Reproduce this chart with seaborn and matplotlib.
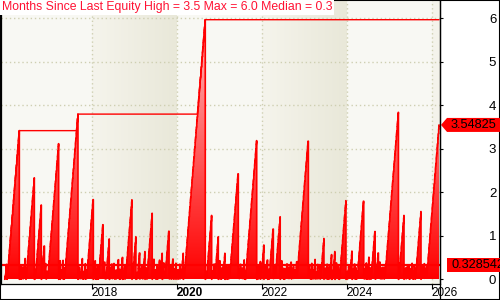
import numpy as np
import pandas as pd
import matplotlib
matplotlib.use("Agg")
import matplotlib.pyplot as plt
import matplotlib.dates as mdates
import seaborn as sns
from matplotlib.colors import LinearSegmentedColormap
from matplotlib.patches import Polygon, PathPatch, Rectangle
from matplotlib.path import Path
from matplotlib.lines import Line2D
from matplotlib.transforms import IdentityTransform

# ---------------- data ----------------
start_date = "2015-12-16"
last_date = "2026-03-05"
peak_dates = [
    "2016-04-19", "2016-06-15", "2016-08-26", "2016-10-25", "2016-11-20",
    "2017-03-23", "2017-04-06", "2017-09-05", "2018-01-15", "2018-04-08",
    "2018-06-01", "2018-09-24", "2018-12-13", "2019-01-16", "2019-02-17",
    "2019-04-04", "2019-06-05", "2019-08-30", "2019-10-27", "2020-02-27",
    "2020-09-03", "2020-10-28", "2020-12-24", "2021-02-19", "2021-06-13",
    "2021-11-19", "2022-01-20", "2022-02-21", "2022-04-10", "2022-06-09",
    "2023-02-05", "2023-06-20", "2023-08-25", "2023-09-22", "2023-12-26",
    "2024-02-16", "2024-05-26", "2024-07-11", "2024-08-31", "2024-09-29",
    "2025-03-21", "2025-05-08", "2025-10-01",
]
peak_months = [
    3.45, 0.74, 2.62, 1.74, 0.83,
    3.15, 0.46, 3.83, 1.93, 1.32,
    0.96, 0.60, 1.86, 1.01, 0.67,
    0.67, 1.55, 0.63, 1.17, 0.63,
    6.00, 1.50, 1.01, 0.63, 2.49,
    3.22, 0.82, 0.54, 1.22, 1.47,
    3.24, 0.97, 0.60, 0.67, 1.84,
    0.68, 1.86, 0.54, 1.13, 0.67,
    3.87, 1.50, 1.59,
]
current_months = 3.54825
max_months = 6.0
median_months = 0.328542
# short stretches between new equity highs (months) in the quiet periods
small_gaps = [
    0.12, 0.35, 0.05, 0.22, 0.41, 0.08, 0.18, 0.30, 0.05, 0.47, 0.15, 0.26, 0.07, 0.38, 0.20, 0.10, 0.33, 0.05, 0.24, 0.44,
    0.09, 0.29, 0.16, 0.05, 0.36, 0.21, 0.12, 0.50, 0.06, 0.27, 0.14, 0.39, 0.05, 0.23, 0.31, 0.10, 0.45, 0.08, 0.19, 0.34,
    0.05, 0.25, 0.40, 0.11, 0.17, 0.32, 0.06, 0.28, 0.43, 0.13, 0.05, 0.37, 0.22, 0.09, 0.30, 0.15, 0.48, 0.07, 0.26, 0.18,
    0.34, 0.05, 0.21, 0.42, 0.10, 0.27, 0.14, 0.36, 0.06, 0.24, 0.39, 0.12, 0.05, 0.31, 0.19, 0.46, 0.08, 0.28, 0.16, 0.35,
    0.07, 0.23, 0.44, 0.11, 0.29, 0.05, 0.38, 0.17, 0.25, 0.09, 0.33, 0.20, 0.49, 0.06, 0.27, 0.13, 0.40, 0.05, 0.22, 0.32,
    0.15, 0.37, 0.08, 0.26, 0.05, 0.43, 0.18, 0.30, 0.10, 0.24, 0.35, 0.07, 0.21, 0.45, 0.12, 0.28, 0.05, 0.39, 0.16, 0.33,
    0.06, 0.27, 0.41, 0.14, 0.23, 0.05, 0.36, 0.19, 0.31, 0.09, 0.47, 0.11, 0.25, 0.34, 0.07, 0.20, 0.42, 0.05, 0.29, 0.17,
    0.38, 0.10, 0.26, 0.05, 0.32, 0.22, 0.44, 0.08, 0.18, 0.35, 0.13, 0.28, 0.06, 0.40, 0.21, 0.05, 0.30, 0.15, 0.46, 0.09,
    0.24, 0.37, 0.12, 0.05, 0.27, 0.43, 0.16, 0.33, 0.07, 0.22, 0.39, 0.10, 0.29, 0.05, 0.48, 0.14, 0.25, 0.36, 0.08, 0.19,
    0.31, 0.05, 0.42, 0.17, 0.26, 0.11, 0.35, 0.06, 0.23, 0.45, 0.13, 0.28, 0.05, 0.38, 0.20, 0.32, 0.09, 0.41, 0.15, 0.27,
    0.05, 0.34, 0.21, 0.47, 0.10, 0.24, 0.37, 0.07, 0.30, 0.18, 0.05, 0.43, 0.12, 0.26, 0.39, 0.08, 0.22, 0.33, 0.16, 0.44,
    0.06, 0.28, 0.40, 0.11, 0.25, 0.05, 0.36, 0.19, 0.31, 0.14, 0.46, 0.09, 0.23, 0.35, 0.05, 0.29, 0.17, 0.42, 0.12, 0.27,
    0.38, 0.07, 0.21, 0.05, 0.33, 0.24, 0.45, 0.10, 0.30, 0.16, 0.37, 0.06, 0.26, 0.41, 0.13, 0.05, 0.32, 0.20, 0.48, 0.11,
    0.18, 0.34, 0.05, 0.27, 0.43, 0.09, 0.22, 0.36, 0.14, 0.29, 0.05, 0.40, 0.17, 0.25, 0.38, 0.08, 0.31, 0.12, 0.44, 0.23,
]
year_ticks = [2018, 2020, 2022, 2024, 2026]
bold_year = 2020
shaded_years = [(2018, 2020), (2022, 2024), (2026, 2028)]
y_ticks = [0, 1, 2, 3, 4, 5, 6]
title = "Months Since Last Equity High = 3.5 Max = 6.0 Median = 0.3"

# ---------------- build series ----------------
DPM = 30.4375
start = mdates.date2num(pd.Timestamp(start_date))
last = mdates.date2num(pd.Timestamp(last_date))
episodes = [(mdates.date2num(pd.Timestamp(d)) - m * DPM, mdates.date2num(pd.Timestamp(d)))
            for d, m in zip(peak_dates, peak_months)]
episodes.append((last - current_months * DPM, None))

highs = []
cursor = start
gi = 0
for s, e in episodes:
    t = cursor
    highs.append(t)
    while t < s:
        g = small_gaps[gi % len(small_gaps)] * DPM
        gi += 1
        if t + g >= s:
            break
        t += g
        highs.append(t)
    highs.append(s)
    if e is not None:
        cursor = e
highs = np.array(sorted(set(highs)))

days = mdates.date2num(pd.bdate_range(start_date, last_date))
idx = np.searchsorted(highs, days, side="right") - 1
vals = np.clip((days - highs[idx]) / DPM, 0, None)
run_max = np.maximum.accumulate(vals)
df = pd.DataFrame({"date": days, "months": vals, "runmax": run_max})

# ---------------- figure ----------------
sns.set_theme(style="white")
plt.rcParams["font.family"] = ["Liberation Sans", "DejaVu Sans"]

W, H = 500, 300
fig = plt.figure(figsize=(5, 3), dpi=100)
fig.patch.set_facecolor("white")
ax = fig.add_axes([1 / W, 16 / H, 439 / W, 284 / H])

px_per_day = 340 / (mdates.date2num(pd.Timestamp("2026-01-01")) - mdates.date2num(pd.Timestamp("2018-01-01")))
x_left = mdates.date2num(pd.Timestamp("2018-01-01")) - 90.7 / px_per_day
x_right = mdates.date2num(pd.Timestamp("2026-01-01")) + 8.3 / px_per_day
ymin, ymax = -0.108, 6.42

ax.set_facecolor("#f8f8f3")
band_cmap = LinearSegmentedColormap.from_list("band", ["#f5f4ec", "#e9e8d9"])
for y0, y1 in shaded_years:
    d0 = mdates.date2num(pd.Timestamp(f"{y0}-01-01"))
    d1 = mdates.date2num(pd.Timestamp(f"{y1}-01-01"))
    ax.imshow(np.linspace(0, 1, 64).reshape(1, -1), cmap=band_cmap, aspect="auto",
              extent=[d0, d1, ymin, ymax], origin="lower", zorder=0.2, interpolation="bilinear")

# grid
for yv in y_ticks[1:]:
    ax.axhline(yv, color="#cfcfb2", lw=1.0, ls=(0, (1, 2)), zorder=0.5)
for yr in year_ticks:
    ax.axvline(mdates.date2num(pd.Timestamp(f"{yr}-01-01")), color="#cfcfb2", lw=1.0,
               ls=(0, (1, 2)), zorder=0.5)

# gradient fill under the series
poly = ax.fill_between(df["date"], 0, df["months"], step="post", facecolor="none",
                       edgecolor="none", zorder=1)
paths = poly.get_paths()
clip = PathPatch(Path.make_compound_path(*paths), transform=ax.transData,
                 facecolor="none", edgecolor="none")
ax.add_patch(clip)
fill_cmap = LinearSegmentedColormap.from_list("fill", ["#ff0000", "#ffcccc"])
im = ax.imshow(np.linspace(0, 1, 256).reshape(-1, 1), cmap=fill_cmap, aspect="auto",
               extent=[x_left, x_right, 0, ymax], origin="lower", zorder=1.5)
im.set_clip_path(clip)

sns.lineplot(data=df, x="date", y="months", ax=ax, color="#ff0000", lw=1.2,
             drawstyle="steps-post", estimator=None, sort=False, zorder=2)
sns.lineplot(data=df, x="date", y="runmax", ax=ax, color="#ff0000", lw=1.0,
             drawstyle="steps-post", estimator=None, sort=False, zorder=2.2)
ax.axhline(median_months, color="#ff0000", lw=1.6, zorder=2.5)

ax.set_xlim(x_left, x_right)
ax.set_ylim(ymin, ymax)
ax.set_xlabel("")
ax.set_ylabel("")

# axes / ticks
ax.set_xticks([mdates.date2num(pd.Timestamp(f"{y}-01-01")) for y in year_ticks])
ax.set_xticklabels([str(y) for y in year_ticks])
for lbl, y in zip(ax.get_xticklabels(), year_ticks):
    lbl.set_ha("left")
    if y == bold_year:
        lbl.set_fontweight("bold")
ax.tick_params(axis="x", direction="out", length=3.5, width=0.8, pad=-1.5,
               labelsize=8.5, colors="black", bottom=True)
ax.yaxis.tick_right()
ax.set_yticks(y_ticks)
ax.set_yticklabels([str(v) for v in y_ticks])
ax.tick_params(axis="y", direction="out", length=2.5, width=0.8, pad=38,
               labelsize=9.5, colors="black", right=True, left=False)
for lbl in ax.get_yticklabels():
    lbl.set_ha("right")
for side in ["left", "bottom", "right"]:
    ax.spines[side].set_color("black")
    ax.spines[side].set_linewidth(0.9)
    ax.spines[side].set_visible(True)
ax.spines["top"].set_visible(False)
ax.grid(False)

# right axis line continues to the bottom of the figure
fig.add_artist(Line2D([440 / W, 440 / W], [0, 1], transform=fig.transFigure,
                      color="black", lw=0.9))
# figure border
fig.add_artist(Rectangle((0, 0), 1, 1, transform=fig.transFigure, fill=False,
                         edgecolor="black", lw=1.5))

# title
fig.text(2 / W, 1 - 1 / H, title, ha="left", va="top", color="#ff1133", fontsize=8.8,
         bbox=dict(facecolor="white", edgecolor="none", pad=1.2), zorder=10)

# value tags
fig.canvas.draw()
ident = IdentityTransform()
ypc = ax.transData.transform((x_left, current_months))[1]
fig.add_artist(Polygon([(441, ypc), (447, ypc + 7), (500, ypc + 7), (500, ypc - 7), (447, ypc - 7)],
                       closed=True, transform=ident, facecolor="#ff0000", edgecolor="none"))
fig.text(451 / W, ypc / H, f"{current_months:.5f}", ha="left", va="center",
         color="black", fontsize=9.2)
ypm = ax.transData.transform((x_left, median_months))[1]
fig.add_artist(Polygon([(447, ypm + 7), (500, ypm + 7), (500, ypm - 7), (447, ypm - 7)],
                       closed=True, transform=ident, facecolor="#ff0000", edgecolor="none"))
fig.text(451 / W, ypm / H, f"{median_months:.6f}", ha="left", va="center",
         color="black", fontsize=9.2)

fig.savefig("out.png", dpi=100)
